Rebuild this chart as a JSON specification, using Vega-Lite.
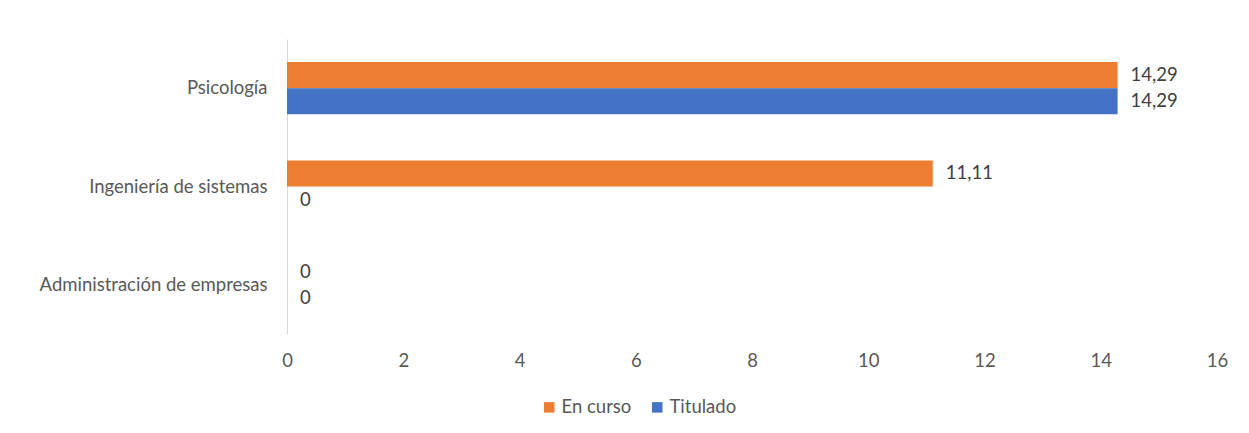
{
  "$schema": "https://vega.github.io/schema/vega-lite/v6.json",
  "width": 930,
  "height": 295,
  "autosize": {"type": "none"},
  "padding": {"left": 287, "top": 39, "right": 32, "bottom": 99},
  "background": "white",
  "config": {
    "view": {"stroke": null},
    "font": "Lato",
    "locale": {"number": {"decimal": ",", "thousands": ".", "grouping": [3], "currency": ["", "€"]}}
  },
  "data": {
    "values": [
      {"carrera": "Psicología", "estado": "En curso", "valor": 14.29},
      {"carrera": "Psicología", "estado": "Titulado", "valor": 14.29},
      {"carrera": "Ingeniería de sistemas", "estado": "En curso", "valor": 11.11},
      {"carrera": "Ingeniería de sistemas", "estado": "Titulado", "valor": 0},
      {"carrera": "Administración de empresas", "estado": "En curso", "valor": 0},
      {"carrera": "Administración de empresas", "estado": "Titulado", "valor": 0}
    ]
  },
  "encoding": {
    "y": {
      "field": "carrera",
      "type": "nominal",
      "sort": ["Psicología", "Ingeniería de sistemas", "Administración de empresas"],
      "scale": {"paddingInner": 0.471, "paddingOuter": 0.235},
      "axis": {"title": null, "ticks": false, "labelPadding": 20, "labelFontSize": 18.5, "labelColor": "#595959", "domainColor": "#d9d9d9", "labelLimit": 400}
    },
    "yOffset": {
      "field": "estado",
      "sort": ["En curso", "Titulado"],
      "scale": {"paddingInner": 0, "paddingOuter": 0}
    },
    "x": {
      "field": "valor",
      "type": "quantitative",
      "scale": {"domain": [0, 16], "nice": false},
      "axis": {"title": null, "values": [0, 2, 4, 6, 8, 10, 12, 14, 16], "grid": false, "domain": false, "ticks": false, "labelFlush": false, "labelPadding": 17, "labelFontSize": 18.5, "labelColor": "#595959"}
    }
  },
  "layer": [
    {
      "mark": {"type": "bar"},
      "encoding": {
        "color": {
          "field": "estado",
          "type": "nominal",
          "scale": {"domain": ["En curso", "Titulado"], "range": ["#ED7D31", "#4472C4"]},
          "legend": {
            "title": null,
            "orient": "none",
            "direction": "horizontal",
            "legendX": 253,
            "legendY": 359,
            "symbolType": "square",
            "symbolSize": 110,
            "symbolStrokeWidth": 0,
            "labelFontSize": 18.5,
            "labelColor": "#595959",
            "labelOffset": 3,
            "columnPadding": 16
          }
        }
      }
    },
    {
      "mark": {"type": "text", "align": "left", "dx": 13, "baseline": "middle", "fontSize": 18.5, "color": "#404040"},
      "encoding": {
        "text": {"field": "valor", "type": "quantitative", "format": "~g"}
      }
    }
  ]
}
